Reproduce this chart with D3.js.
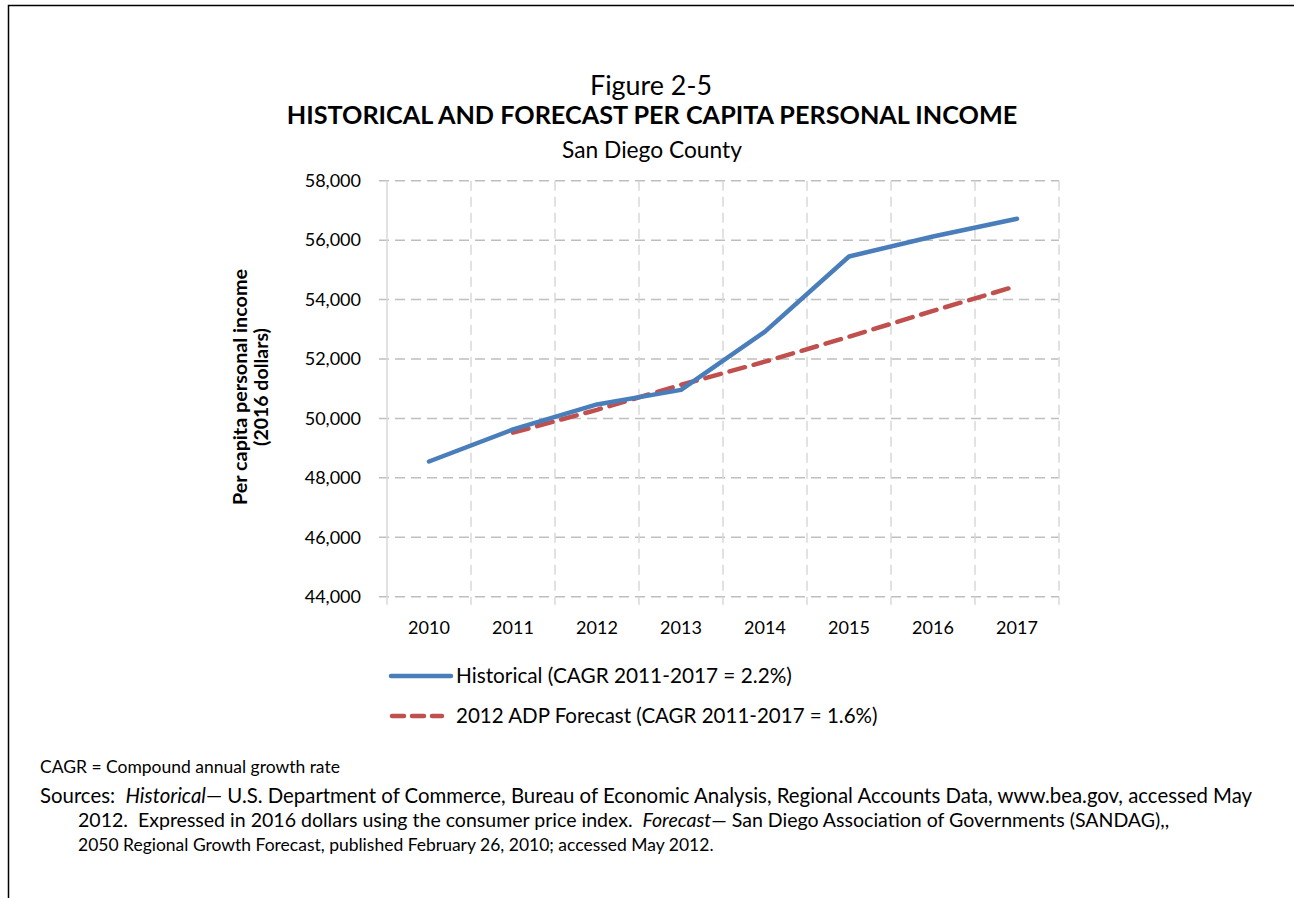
<!DOCTYPE html>
<html><head><meta charset="utf-8">
<script src="https://cdn.jsdelivr.net/npm/d3@7"></script>
<style>body{margin:0;background:#fff;} svg{display:block;} text{font-family:Lato,"Open Sans",sans-serif;fill:#000;white-space:pre;}</style>
</head><body>
<svg id="c" width="1294" height="898"></svg>
<script>
const years = [2010, 2011, 2012, 2013, 2014, 2015, 2016, 2017];
const historical = [48550, 49630, 50470, 50960, 52920, 55450, 56120, 56720];
const forecastYears = [2011, 2012, 2013, 2014, 2015, 2016, 2017];
const forecast = [49520, 50290, 51130, 51910, 52750, 53620, 54460];
const yTicks = [44000, 46000, 48000, 50000, 52000, 54000, 56000, 58000];
const seriesNames = ["Historical (CAGR 2011-2017 = 2.2%)", "2012 ADP Forecast (CAGR 2011-2017 = 1.6%)"];
const titles = ["Figure 2-5", "HISTORICAL AND FORECAST PER CAPITA PERSONAL INCOME", "San Diego County"];
const yLabel = ["Per capita personal income", "(2016 dollars)"];

const svg = d3.select("#c");
svg.append("path").attr("d","M8.5,898 V5.5 H1294").attr("fill","none").attr("stroke","#000").attr("stroke-width",1.5);

function fit(sel, target){
  const w = sel.node().getComputedTextLength();
  const fs = parseFloat(sel.attr("font-size"));
  sel.attr("font-size", fs*target/w);
  return sel;
}

const L=387, R=1059, T=180.7, B=596.7;
const x = d3.scaleBand().domain(years).range([L,R]);
const y = d3.scaleLinear().domain([44000,58000]).range([B,T]);

const g = svg.append("g");
g.selectAll("line.h").data(yTicks).join("line")
 .attr("x1",L-8).attr("x2",R).attr("y1",d=>y(d)).attr("y2",d=>y(d))
 .attr("stroke","#bfbfbf").attr("stroke-width",1.5).attr("stroke-dasharray","10,6");
const bounds = years.slice(1).map(d=>x(d)).concat([R]);
g.selectAll("line.v").data(bounds).join("line")
 .attr("x1",d=>d).attr("x2",d=>d).attr("y1",T).attr("y2",B+8)
 .attr("stroke","#d9d9d9").attr("stroke-width",1.5).attr("stroke-dasharray","10,6");
g.append("line").attr("x1",L).attr("x2",L).attr("y1",T).attr("y2",B+8).attr("stroke","#d9d9d9").attr("stroke-width",1.5);

g.selectAll("text.yt").data(yTicks).join("text")
 .attr("x",361).attr("y",d=>y(d)).attr("dy","0.35em").attr("text-anchor","end")
 .attr("font-size",18).text(d=>d3.format(",")(d));
g.selectAll("text.xt").data(years).join("text")
 .attr("x",d=>x(d)+x.bandwidth()/2).attr("y",628).attr("dy","0.35em").attr("text-anchor","middle")
 .attr("font-size",18).text(d=>d);

const line = d3.line().x(d=>x(d[0])+x.bandwidth()/2).y(d=>y(d[1]));
g.append("path").datum(forecastYears.map((d,i)=>[d,forecast[i]]))
 .attr("d",line).attr("fill","none").attr("stroke","#c0504d").attr("stroke-width",4.5)
 .attr("stroke-dasharray","16,9").attr("stroke-linecap","round");
g.append("path").datum(years.map((d,i)=>[d,historical[i]]))
 .attr("d",line).attr("fill","none").attr("stroke","#4a7ebb").attr("stroke-width",4.5)
 .attr("stroke-linecap","round").attr("stroke-linejoin","round");

fit(svg.append("text").attr("x",651).attr("y",95).attr("text-anchor","middle").attr("font-size",22).text(titles[0]), 122);
fit(svg.append("text").attr("x",652).attr("y",124).attr("text-anchor","middle").attr("font-size",22).attr("font-weight","bold").text(titles[1]), 731);
fit(svg.append("text").attr("x",652).attr("y",158).attr("text-anchor","middle").attr("font-size",22).text(titles[2]), 180);

const yl = svg.append("g").attr("transform","translate(0,387) rotate(-90)");
fit(yl.append("text").attr("x",0).attr("y",247).attr("text-anchor","middle").attr("font-size",17).attr("font-weight","bold").text(yLabel[0]), 236);
fit(yl.append("text").attr("x",0).attr("y",268).attr("text-anchor","middle").attr("font-size",17).attr("font-weight","bold").text(yLabel[1]), 118);

svg.append("line").attr("x1",391).attr("x2",451).attr("y1",676).attr("y2",676).attr("stroke","#4a7ebb").attr("stroke-width",4.5).attr("stroke-linecap","round");
fit(svg.append("text").attr("x",456).attr("y",676).attr("dy","0.35em").attr("font-size",17).text(seriesNames[0]), 336);
svg.append("line").attr("x1",392).attr("x2",442).attr("y1",716).attr("y2",716).attr("stroke","#c0504d").attr("stroke-width",4.5).attr("stroke-dasharray","12,8").attr("stroke-linecap","round");
fit(svg.append("text").attr("x",456).attr("y",716).attr("dy","0.35em").attr("font-size",17).text(seriesNames[1]), 422);

const f1 = svg.append("text").attr("x",40).attr("y",803).attr("font-size",15);
f1.append("tspan").text("Sources:  ");
f1.append("tspan").attr("font-style","italic").text("Historical");
f1.append("tspan").text("\u2014 U.S. Department of Commerce, Bureau of Economic Analysis, Regional Accounts Data, www.bea.gov, accessed May");
fit(f1, 1213);
const f2 = svg.append("text").attr("x",78).attr("y",827).attr("font-size",15);
f2.append("tspan").text("2012.  Expressed in 2016 dollars using the consumer price index.  ");
f2.append("tspan").attr("font-style","italic").text("Forecast");
f2.append("tspan").text("\u2014 San Diego Association of Governments (SANDAG),,");
fit(f2, 1092);
const f3 = fit(svg.append("text").attr("x",78).attr("y",851).attr("font-size",15).text("2050 Regional Growth Forecast, published February 26, 2010; accessed May 2012."), 636);
svg.append("text").attr("x",40).attr("y",773).attr("font-size",f3.attr("font-size")).text("CAGR = Compound annual growth rate");
</script>
</body></html>
